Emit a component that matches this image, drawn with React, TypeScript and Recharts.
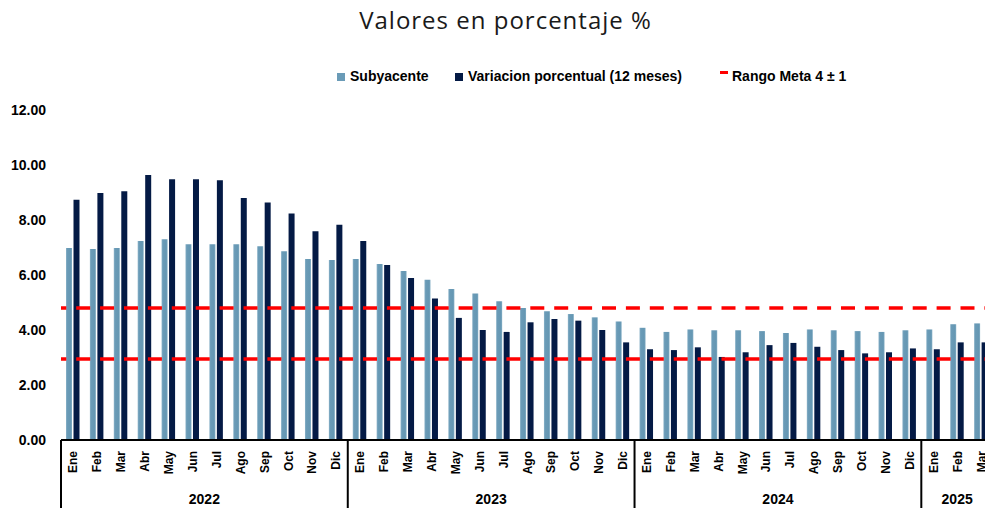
import React from 'react';
import { BarChart, Bar, XAxis, YAxis, ReferenceLine } from 'recharts';

// ---------- data ----------
const MONTHS = [
  'Ene', 'Feb', 'Mar', 'Abr', 'May', 'Jun', 'Jul', 'Ago', 'Sep', 'Oct', 'Nov', 'Dic',
  'Ene', 'Feb', 'Mar', 'Abr', 'May', 'Jun', 'Jul', 'Ago', 'Sep', 'Oct', 'Nov', 'Dic',
  'Ene', 'Feb', 'Mar', 'Abr', 'May', 'Jun', 'Jul', 'Ago', 'Sep', 'Oct', 'Nov', 'Dic',
  'Ene', 'Feb', 'Mar',
];
const YEARS = [
  '2022', '2022', '2022', '2022', '2022', '2022', '2022', '2022', '2022', '2022', '2022', '2022',
  '2023', '2023', '2023', '2023', '2023', '2023', '2023', '2023', '2023', '2023', '2023', '2023',
  '2024', '2024', '2024', '2024', '2024', '2024', '2024', '2024', '2024', '2024', '2024', '2024',
  '2025', '2025', '2025',
];
const SUBYACENTE = [
  6.98, 6.95, 6.98, 7.24, 7.30, 7.12, 7.12, 7.12, 7.05, 6.86, 6.58, 6.55,
  6.58, 6.40, 6.15, 5.83, 5.49, 5.33, 5.05, 4.80, 4.68, 4.58, 4.46, 4.31,
  4.08, 3.93, 4.02, 3.99, 3.99, 3.96, 3.89, 4.02, 3.99, 3.96, 3.93, 3.99,
  4.02, 4.21, 4.24,
];
const VARIACION = [
  8.74, 8.98, 9.05, 9.64, 9.48, 9.48, 9.45, 8.80, 8.64, 8.24, 7.59, 7.83,
  7.24, 6.36, 5.89, 5.15, 4.44, 4.00, 3.93, 4.28, 4.40, 4.34, 4.00, 3.55,
  3.30, 3.27, 3.37, 3.02, 3.19, 3.45, 3.53, 3.39, 3.27, 3.15, 3.19, 3.33,
  3.30, 3.55, 3.55,
];
const META_HIGH = 4.8;
const META_LOW = 2.95;
const Y_TICKS = [0, 2, 4, 6, 8, 10, 12];

const TITLE = 'Valores en porcentaje %';
const SERIES_NAMES = ['Subyacente', 'Variacion porcentual (12 meses)', 'Rango Meta 4 ± 1'];

// ---------- layout / style ----------
const CHART_W = 1000;
const CHART_H = 508;
const Y_AXIS_W = 61;
const MARGIN = { top: 110, right: 7, bottom: 0, left: 0 };
const X_AXIS_H = 68;
const PLOT_W = CHART_W - Y_AXIS_W - MARGIN.left - MARGIN.right;
const STEP = PLOT_W / MONTHS.length;

const LIGHT = '#6A9BB7';
const DARK = '#041A45';
const RED = '#FF0000';
const FONT = '"Liberation Sans", Arial, sans-serif';

const data = MONTHS.map((m, i) => ({
  key: `${m}-${YEARS[i]}`,
  month: m,
  year: YEARS[i],
  sub: SUBYACENTE[i],
  var: VARIACION[i],
}));

// year groups
const groups: { year: string; start: number; count: number }[] = [];
YEARS.forEach((y, i) => {
  const g = groups[groups.length - 1];
  if (g && g.year === y) g.count += 1;
  else groups.push({ year: y, start: i, count: 1 });
});

const XTick = (props: any) => {
  const { x, y, index } = props;
  const grp = groups.find((g) => g.start === index);
  const isLast = index === MONTHS.length - 1;
  return (
    <g>
      <text
        transform={`translate(${x + 4.5},${y + 11}) rotate(-90)`}
        textAnchor="end"
        fontFamily={FONT}
        fontWeight="bold"
        fontSize={12}
        fill="#000"
      >
        {MONTHS[index]}
      </text>
      {grp && (
        <>
          <line x1={x - STEP / 2} x2={x - STEP / 2} y1={y} y2={y + 72} stroke="#000" strokeWidth={2} />
          <text
            x={x + ((grp.count - 1) * STEP) / 2}
            y={y + 64}
            textAnchor="middle"
            fontFamily={FONT}
            fontWeight="bold"
            fontSize={14}
            fill="#000"
          >
            {grp.year}
          </text>
        </>
      )}
      {isLast && (
        <line x1={x + STEP / 2} x2={x + STEP / 2} y1={y} y2={y + 72} stroke="#000" strokeWidth={2} />
      )}
    </g>
  );
};

const YTick = (props: any) => {
  const { x, y, payload } = props;
  return (
    <text x={x} y={y} dy={5} textAnchor="end" fontFamily={FONT} fontWeight="bold" fontSize={14} fill="#000">
      {Number(payload.value).toFixed(2)}
    </text>
  );
};

export default function App() {
  return (
    <div style={{ position: 'fixed', left: 0, top: 0, width: 985, height: 508, overflow: 'hidden', background: '#fff' }}>
      <div style={{ position: 'absolute', left: 0, top: 0 }}>
        <BarChart
          width={CHART_W}
          height={CHART_H}
          data={data}
          margin={MARGIN}
          barCategoryGap={5}
          barGap={1.5}
        >
          <defs>
            <linearGradient id="lightGrad" x1="0" y1="0" x2="1" y2="0">
              <stop offset="0%" stopColor="#8CB3C9" />
              <stop offset="22%" stopColor="#6A9BB7" />
              <stop offset="78%" stopColor="#6597B3" />
              <stop offset="100%" stopColor="#84AEC5" />
            </linearGradient>
          </defs>
          <XAxis
            dataKey="key"
            interval={0}
            height={X_AXIS_H}
            tickSize={0}
            tickMargin={0}
            tickLine={false}
            axisLine={{ stroke: '#000', strokeWidth: 2 }}
            tick={<XTick />}
          />
          <YAxis
            width={Y_AXIS_W}
            domain={[0, 12]}
            ticks={Y_TICKS}
            tickSize={0}
            tickMargin={15}
            tickLine={false}
            axisLine={false}
            tick={<YTick />}
          />
          <Bar dataKey="sub" name={SERIES_NAMES[0]} fill="url(#lightGrad)" isAnimationActive={false} />
          <Bar dataKey="var" name={SERIES_NAMES[1]} fill={DARK} isAnimationActive={false} />
          <ReferenceLine y={META_HIGH} stroke={RED} strokeWidth={3.5} strokeDasharray="14 9.9" strokeDashoffset={8.7} />
          <ReferenceLine y={META_LOW} stroke={RED} strokeWidth={3.5} strokeDasharray="14 9.9" strokeDashoffset={8.7} />
        </BarChart>
      </div>
      <svg
        width={985}
        height={100}
        style={{ position: 'absolute', left: 0, top: 0, pointerEvents: 'none' }}
      >
        <text
          x={505.5}
          y={29}
          textAnchor="middle"
          fontFamily='"Open Sans", sans-serif'
          fontSize={24}
          letterSpacing={1}
          fill="#1a1a1a"
        >
          {TITLE}
        </text>
        <rect x={337} y={73} width={8} height={8} fill={LIGHT} />
        <text x={350} y={81} fontFamily={FONT} fontWeight="bold" fontSize={14} fill="#000">
          {SERIES_NAMES[0]}
        </text>
        <rect x={455} y={73} width={8} height={8} fill={DARK} />
        <text x={468} y={81} fontFamily={FONT} fontWeight="bold" fontSize={14} fill="#000">
          {SERIES_NAMES[1]}
        </text>
        <rect x={720} y={71} width={8} height={3} fill={RED} />
        <text x={732} y={81} fontFamily={FONT} fontWeight="bold" fontSize={14} fill="#000">
          {SERIES_NAMES[2]}
        </text>
      </svg>
    </div>
  );
}
